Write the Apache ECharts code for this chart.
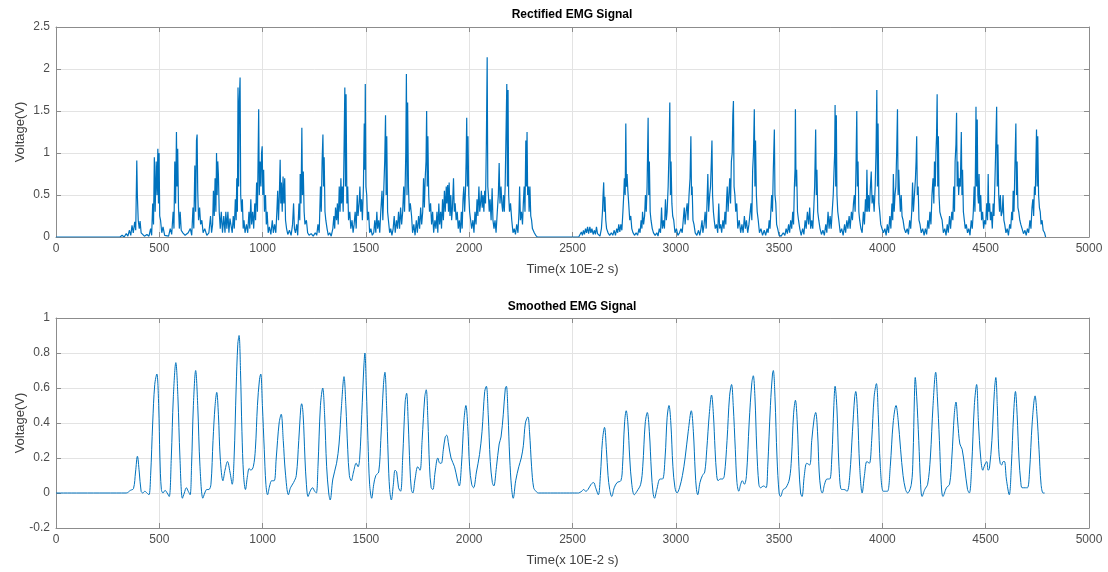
<!DOCTYPE html>
<html>
<head>
<meta charset="utf-8">
<script src="https://cdn.jsdelivr.net/npm/echarts@6/dist/echarts.min.js"></script>
<style>
  html, body { margin: 0; padding: 0; background: #fff; }
  #main { width: 1108px; height: 572px; }
</style>
</head>
<body>
<div id="main"></div>
<script>
// 刻度
const timeTicks = { min: 0, max: 5000, interval: 500 };
const rectTicks = { min: 0, max: 2.5, interval: 0.5 };
const smoothTicks = { min: -0.2, max: 1, interval: 0.2 };

const titles = ['Rectified EMG Signal', 'Smoothed EMG Signal'];
const xName = 'Time(x 10E-2 s)';
const yName = 'Voltage(V)';

// 整流信号 [时间, 电压] (前半段)
const rectFirst = [
  [0,0],[310,0],[320,0.02],[330,0],[340,0.04],[348,0.01],[355,0.08],[362,0.02],[368,0.14],[374,0.05],[381,0.18],[386,0.08],
  [391,0.91],[394,0.48],[398,0.2],[403,0.1],[407,0.19],[412,0.05],[420,0.04],[428,0.01],[440,0.03],[450,0.01],[458,0.1],[463,0.02],
  [468,0.4],[472,0.15],[476,0.95],[480,0.3],[485,0.9],[489,0.5],[493,1.05],[496,0.4],[499,1.0],[502,0.25],[506,0.2],[512,0.05],
  [518,0.12],[526,0.02],[535,0.03],[545,0.01],[553,0.1],[560,0.03],[567,0.3],[571,0.1],[575,0.9],[579,0.4],[583,1.25],[586,0.6],
  [589,1.05],[593,0.35],[597,0.1],[601,0.3],[606,0.08],[614,0.05],[625,0.02],[640,0.05],[650,0.1],[657,0.02],[663,0.35],[667,0.1],
  [672,0.85],[676,0.3],[680,1.15],[683,1.22],[686,0.55],[690,0.2],[695,0.35],[700,0.15],[706,0.2],[712,0.05],[720,0.1],[730,0.02],
  [740,0.05],[748,0.25],[753,0.05],[758,0.15],[762,0.55],[766,0.25],[770,0.7],[774,0.3],[777,1.0],[780,0.5],[783,0.9],[786,0.75],
  [790,0.3],[795,0.1],[800,0.3],[806,0.05],[812,0.25],[818,0.05],[822,0.3],[827,0.1],[832,0.3],[837,0.05],[842,0.22],[848,0.2],
  [853,0.05],[858,0.25],[863,0.1],[868,0.45],[872,0.2],[875,0.7],[878,0.3],[881,1.78],[884,0.6],[887,1.6],[891,1.9],[894,0.5],
  [898,0.3],[902,0.45],[906,0.1],[910,0.2],[915,0.05],[922,0.15],[928,0.05],[934,0.3],[938,0.1],[943,0.45],[947,0.15],[952,0.3],
  [957,0.1],[962,0.4],[966,0.2],[971,0.65],[975,0.3],[978,0.9],[981,1.52],[984,0.5],[988,0.9],[992,0.6],[995,1.0],[998,1.08],
  [1001,0.5],[1005,0.8],[1009,0.3],[1014,0.5],[1018,0.15],[1022,0.3],[1027,0.05],[1033,0.12],[1040,0.03],[1047,0.2],[1052,0.05],
  [1058,0.15],[1064,0.05],[1069,0.3],[1073,0.55],[1077,0.2],[1081,0.5],[1085,0.92],[1088,0.4],[1091,0.65],[1095,0.3],[1099,0.72],
  [1103,0.4],[1107,0.7],[1111,0.2],[1116,0.1],[1122,0.03],[1130,0.08],[1138,0.02],[1145,0.15],[1150,0.4],[1154,0.1],[1159,0.05],
  [1165,0.15],[1170,0.02],[1176,0.4],[1180,0.2],[1182,0.75],[1186,0.4],[1190,1.3],[1193,0.5],[1197,0.78],[1201,0.3],[1205,0.15],
  [1212,0.2],[1218,0.05],[1225,0.02],[1235,0.04],[1245,0.01],[1255,0.05],[1262,0.02],[1268,0.15],[1274,0.05],[1280,0.6],[1284,0.3],
  [1288,0.9],[1292,1.22],[1295,0.6],[1298,0.95],[1302,0.3],[1306,0.2],[1312,0.1],[1318,0.02],[1325,0.05],[1332,0.01],[1340,0.1],
  [1345,0.25],[1349,0.1],[1353,0.35],[1358,0.2],[1362,0.4],[1366,0.15],[1371,0.6],[1375,0.3],[1379,0.7],[1382,0.4],[1386,0.6],
  [1390,0.3],[1394,1.0],[1398,1.78],[1401,0.6],[1404,1.7],[1408,0.4],[1412,0.6],[1416,0.2],[1422,0.3],[1427,0.1],[1433,0.2],
  [1438,0.05],[1443,0.15],[1448,0.3],[1453,0.1],[1458,0.5],[1462,0.25],[1467,0.4],[1471,0.6],[1475,0.3],[1479,0.45],[1483,0.2],
  [1488,0.6],[1492,1.35],[1495,0.8],[1497,1.82],[1500,0.6],[1504,0.5],[1508,0.2],[1513,0.3],[1518,0.05],[1524,0.1],[1531,0.02],
  [1538,0.05],[1543,0.2],[1548,0.05],[1553,0.3],[1557,0.1],[1562,0.2],[1567,0.05],[1572,0.3],[1578,0.55],[1582,0.2],[1587,0.6],
  [1591,0.9],[1595,1.45],[1598,0.5],[1601,1.2],[1605,0.3],[1609,0.2],[1615,0.05],[1620,0.1],[1626,0.02],[1632,0.1],[1637,0.25],
  [1642,0.05],[1648,0.2],[1653,0.1],[1658,0.3],[1663,0.1],[1668,0.35],[1673,0.15],[1678,0.3],[1683,0.6],[1687,0.3],[1690,0.6],
  [1693,1.0],[1696,1.94],[1699,0.5],[1702,1.6],[1706,0.6],[1710,0.3],[1715,0.4],[1721,0.25],[1726,0.05],[1732,0.15],[1738,0.02],
  [1744,0.2],[1749,0.05],[1755,0.25],[1760,0.1],[1765,0.35],[1770,0.15],[1775,0.3],[1779,0.7],[1783,0.35],[1787,0.7],[1791,0.9],
  [1794,1.5],[1797,0.6],[1800,1.2],[1804,0.5],[1808,0.3],[1813,0.4],[1818,0.15],[1823,0.3],[1828,0.05],[1834,0.2],[1839,0.1],
  [1844,0.3],[1848,0.05],[1853,0.4],[1857,0.15],[1862,0.3],[1866,0.1],[1871,0.45],[1875,0.2],[1880,0.55],[1884,0.3],[1889,0.6],
  [1892,0.4],[1896,0.62],[1900,0.3],[1903,0.65],[1907,0.25],[1911,0.5],[1915,0.2],[1919,0.35],[1924,0.7],[1928,0.3],[1932,0.4],
  [1937,0.2],[1942,0.3],[1947,0.1],[1952,0.2],[1957,0.05],[1962,0.3],[1966,0.1],[1970,0.45],[1974,0.6],[1978,0.3],[1982,0.55],
  [1985,0.9],[1988,1.42],[1991,0.6],[1994,1.2],[1998,0.5],[2002,0.3],[2007,0.2],[2012,0.1],[2018,0.2],[2023,0.05],[2028,0.3],
  [2033,0.15],[2038,0.45],[2042,0.25],[2047,0.6],[2051,0.3],[2055,0.4],[2059,0.55],[2063,0.35],[2067,0.5],[2071,0.3],[2075,0.55],
  [2079,0.4],[2083,1.1],[2087,2.14],[2090,0.6],[2093,0.5],[2097,0.3],[2101,0.45],[2106,0.2],[2111,0.58],[2115,0.2],[2120,0.1],
  [2125,0.2],[2130,0.05],[2136,0.3],[2141,0.5],[2145,0.88],[2149,0.4],[2154,0.6],[2158,0.4],[2162,0.3],[2166,0.5],[2170,0.3],
  [2174,0.6],[2178,1.2],[2182,1.82],[2185,0.6],[2188,1.75],[2191,0.5],[2195,0.3],[2200,0.4],[2206,0.2],[2212,0.05],[2218,0.1],
  [2224,0.03],[2230,0.15],[2236,0.05],[2241,0.3],[2244,0.6],[2248,0.2],[2253,0.3],[2258,0.15],[2262,0.4],[2266,0.6],[2270,0.3],
  [2274,1.15],[2277,0.6],[2280,1.25],[2283,0.5],[2287,0.6],[2290,0.3],[2294,0.6],[2298,0.25],[2302,0.2],[2306,0.1],[2310,0.12],
  [2315,0.05],[2322,0.02],[2330,0]
];

// 整流信号 (后半段)
const rectSecond = [
  [2530,0],[2538,0.02],[2543,0.06],[2548,0.02],[2553,0.08],[2558,0.03],[2563,0.1],[2568,0.05],[2573,0.12],[2578,0.04],[2584,0.12],
  [2589,0.05],[2594,0.1],[2600,0.03],[2606,0.08],[2611,0.03],[2616,0.12],[2621,0.04],[2627,0.05],[2633,0.01],[2640,0.1],[2645,0.3],
  [2648,0.5],[2651,0.65],[2654,0.3],[2657,0.48],[2661,0.2],[2665,0.1],[2672,0.05],[2680,0.02],[2688,0.05],[2695,0.02],[2702,0.08],
  [2708,0.02],[2714,0.1],[2719,0.05],[2724,0.15],[2729,0.06],[2734,0.15],[2739,0.08],[2744,0.3],[2748,0.5],[2751,0.7],[2755,0.5],
  [2758,1.35],[2761,0.6],[2764,0.75],[2768,0.55],[2772,0.4],[2777,0.2],[2782,0.25],[2787,0.1],[2793,0.05],[2800,0.02],[2808,0.05],
  [2815,0.02],[2822,0.1],[2827,0.05],[2832,0.2],[2836,0.1],[2839,0.3],[2844,0.15],[2849,0.25],[2853,0.5],[2857,0.3],[2861,0.6],
  [2866,1.42],[2869,0.5],[2872,0.9],[2876,0.3],[2880,0.2],[2886,0.1],[2892,0.05],[2900,0.02],[2908,0.05],[2914,0.01],[2920,0.1],
  [2926,0.05],[2931,0.35],[2935,0.1],[2940,0.2],[2945,0.1],[2950,0.45],[2954,0.2],[2958,0.3],[2963,0.6],[2967,1.0],[2971,1.6],
  [2974,0.5],[2977,0.9],[2981,0.4],[2985,0.25],[2990,0.2],[2996,0.05],[3003,0.1],[3010,0.02],[3018,0.05],[3025,0.1],[3031,0.05],
  [3036,0.2],[3041,0.35],[3045,0.15],[3050,0.3],[3055,0.4],[3059,0.2],[3064,0.5],[3069,0.7],[3073,1.2],[3076,0.5],[3079,0.6],
  [3083,0.2],[3088,0.15],[3094,0.05],[3102,0.02],[3110,0.08],[3116,0.02],[3122,0.1],[3127,0.2],[3131,0.05],[3137,0.15],[3142,0.3],
  [3147,0.1],[3151,0.4],[3155,0.75],[3159,0.3],[3164,0.5],[3168,0.6],[3172,0.9],[3175,1.15],[3178,0.5],[3182,0.3],[3186,0.2],
  [3191,0.1],[3197,0.15],[3203,0.05],[3208,0.4],[3212,0.1],[3217,0.15],[3222,0.05],[3228,0.2],[3233,0.1],[3238,0.3],[3242,0.15],
  [3246,0.45],[3249,0.6],[3253,0.3],[3257,0.5],[3261,0.7],[3265,0.4],[3269,0.9],[3273,1.0],[3276,1.45],[3279,1.62],[3282,0.6],
  [3286,0.5],[3290,0.3],[3295,0.4],[3300,0.1],[3307,0.2],[3314,0.05],[3320,0.15],[3326,0.05],[3332,0.25],[3337,0.1],[3342,0.2],
  [3348,0.05],[3354,0.15],[3360,0.3],[3364,0.4],[3368,0.2],[3372,0.8],[3376,1.0],[3380,1.52],[3383,0.6],[3386,1.15],[3390,0.5],
  [3394,0.3],[3399,0.2],[3405,0.05],[3412,0.1],[3420,0.02],[3428,0.08],[3435,0.02],[3442,0.1],[3447,0.05],[3452,0.2],[3456,0.1],
  [3460,0.3],[3464,0.5],[3468,0.3],[3472,0.8],[3477,1.28],[3480,0.5],[3484,0.4],[3488,0.15],[3493,0.1],[3500,0.02],[3510,0.01],
  [3520,0.05],[3528,0.02],[3534,0.1],[3540,0.04],[3546,0.15],[3551,0.05],[3556,0.2],[3561,0.1],[3566,0.3],[3570,0.15],[3574,0.6],
  [3577,0.8],[3579,1.52],[3582,0.6],[3585,0.8],[3589,0.3],[3594,0.2],[3600,0.1],[3607,0.02],[3614,0.1],[3620,0.03],[3626,0.2],
  [3631,0.1],[3637,0.3],[3643,0.15],[3648,0.35],[3653,0.1],[3658,0.2],[3663,0.1],[3668,0.35],[3672,0.6],[3677,1.28],[3680,0.5],
  [3683,0.8],[3687,0.3],[3692,0.2],[3698,0.1],[3705,0.03],[3712,0.08],[3719,0.02],[3726,0.15],[3731,0.05],[3737,0.3],[3742,0.1],
  [3747,0.25],[3752,0.1],[3757,0.3],[3762,0.5],[3766,0.8],[3769,1.0],[3771,1.57],[3774,0.6],[3777,1.45],[3780,0.5],[3784,0.3],
  [3789,0.2],[3796,0.05],[3803,0.1],[3810,0.02],[3817,0.15],[3822,0.05],[3828,0.2],[3833,0.1],[3839,0.25],[3844,0.1],[3850,0.3],
  [3855,0.2],[3860,0.4],[3864,0.5],[3868,0.3],[3872,0.8],[3876,1.5],[3879,0.6],[3882,0.9],[3886,0.3],[3890,0.2],[3896,0.1],
  [3902,0.05],[3908,0.3],[3913,0.15],[3918,0.45],[3922,0.3],[3925,0.8],[3929,0.3],[3933,0.5],[3937,0.3],[3942,0.6],[3946,0.78],
  [3950,0.4],[3955,0.5],[3960,0.3],[3965,0.6],[3969,1.0],[3973,1.75],[3976,0.6],[3979,1.35],[3983,0.4],[3987,0.3],[3992,0.15],
  [3998,0.1],[4005,0.05],[4012,0.1],[4018,0.02],[4024,0.15],[4030,0.05],[4036,0.25],[4041,0.1],[4046,0.4],[4050,0.2],[4053,0.75],
  [4057,0.3],[4061,0.5],[4065,0.6],[4069,1.0],[4073,1.52],[4076,0.5],[4079,0.8],[4083,0.5],[4087,0.3],[4091,0.5],[4095,0.25],
  [4100,0.2],[4106,0.1],[4113,0.05],[4120,0.1],[4126,0.03],[4132,0.2],[4137,0.1],[4142,0.3],[4146,0.65],[4150,0.3],[4155,0.5],
  [4160,0.7],[4163,0.9],[4166,1.2],[4169,0.5],[4173,0.6],[4177,0.2],[4182,0.15],[4188,0.05],[4195,0.1],[4202,0.02],[4208,0.1],
  [4214,0.03],[4220,0.2],[4225,0.1],[4230,0.3],[4235,0.15],[4240,0.5],[4245,0.7],[4249,0.4],[4252,0.9],[4256,0.6],[4259,1.0],
  [4262,1.2],[4265,1.7],[4268,0.6],[4271,1.2],[4274,0.5],[4278,0.3],[4283,0.25],[4289,0.2],[4295,0.05],[4302,0.1],[4308,0.02],
  [4314,0.15],[4319,0.05],[4325,0.25],[4330,0.1],[4336,0.3],[4341,0.2],[4345,0.6],[4349,0.3],[4352,0.9],[4356,1.1],[4359,1.48],
  [4362,0.6],[4365,0.9],[4369,0.5],[4373,0.7],[4377,0.6],[4380,1.0],[4382,1.25],[4385,0.5],[4388,0.8],[4392,0.3],[4396,0.3],
  [4401,0.1],[4406,0.15],[4412,0.05],[4418,0.1],[4424,0.02],[4430,0.2],[4435,0.1],[4440,0.3],[4444,0.6],[4448,0.3],[4451,1.0],
  [4453,1.55],[4456,0.6],[4459,1.4],[4462,0.5],[4465,0.4],[4468,0.75],[4472,0.3],[4476,0.5],[4480,0.2],[4485,0.3],[4490,0.1],
  [4495,0.2],[4500,0.15],[4505,0.4],[4509,0.2],[4512,0.75],[4515,0.3],[4519,0.4],[4523,0.2],[4527,0.3],[4532,0.1],[4536,0.4],
  [4540,0.25],[4544,0.6],[4548,1.0],[4553,1.55],[4556,0.6],[4559,1.1],[4563,0.5],[4567,0.3],[4571,0.5],[4575,0.25],[4580,0.3],
  [4584,0.5],[4588,0.2],[4592,0.15],[4598,0.05],[4604,0.1],[4610,0.02],[4616,0.15],[4621,0.1],[4626,0.3],[4630,0.2],[4633,0.55],
  [4637,0.3],[4641,0.8],[4646,1.35],[4649,0.5],[4652,0.9],[4656,0.35],[4660,0.3],[4665,0.2],[4670,0.15],[4676,0.1],[4683,0.04],
  [4690,0.08],[4696,0.02],[4702,0.1],[4708,0.05],[4714,0.2],[4719,0.1],[4724,0.35],[4728,0.45],[4732,0.25],[4736,0.6],[4740,0.5],
  [4743,0.9],[4746,1.28],[4749,0.6],[4752,1.2],[4756,0.5],[4760,0.35],[4764,0.3],[4768,0.15],[4773,0.2],[4778,0.08],[4785,0.05],
  [4790,0]
];

// 平滑信号 (前半段)
const smoothFirst = [
  [0,0],[340,0],[360,0.015],[375,0.025],[385,0.12],[394,0.21],[403,0.12],[412,0.01],[420,0],[430,0.01],[440,0],[450,-0.01],
  [458,0.1],[468,0.4],[478,0.62],[488,0.68],[497,0.5],[503,0.2],[510,0.02],[518,0],[528,0.015],[538,0],[548,-0.02],[558,0.2],
  [568,0.55],[580,0.745],[590,0.55],[600,0.2],[612,-0.03],[621,0],[631,0.03],[640,0.01],[649,-0.01],[656,0.15],[665,0.5],
  [676,0.7],[686,0.5],[697,0.15],[711,-0.03],[720,0],[730,0.02],[740,0.02],[750,0.05],[760,0.3],[770,0.5],[778,0.575],[786,0.45],
  [795,0.2],[808,0.07],[818,0.13],[830,0.18],[842,0.12],[853,0.05],[862,0.2],[872,0.6],[880,0.85],[886,0.9],[893,0.7],[900,0.35],
  [908,0.1],[917,0.02],[927,0.1],[935,0.14],[943,0.13],[955,0.15],[965,0.25],[975,0.5],[985,0.65],[991,0.68],[999,0.5],[1008,0.25],
  [1016,0.05],[1024,-0.01],[1034,0.04],[1044,0.07],[1056,0.07],[1066,0.2],[1080,0.4],[1090,0.45],[1100,0.3],[1110,0.12],[1125,-0.01],
  [1135,0.03],[1150,0.06],[1163,0.1],[1175,0.3],[1185,0.49],[1189,0.51],[1196,0.45],[1205,0.2],[1212,0.05],[1220,-0.02],[1230,0.01],
  [1242,0.03],[1252,0.01],[1260,0],[1268,0.15],[1280,0.5],[1291,0.6],[1300,0.45],[1310,0.15],[1320,0],[1327,-0.04],[1340,0.08],
  [1358,0.17],[1370,0.28],[1382,0.5],[1394,0.665],[1403,0.5],[1412,0.25],[1420,0.1],[1429,0.07],[1440,0.12],[1453,0.17],[1462,0.15],
  [1470,0.2],[1480,0.45],[1490,0.72],[1495,0.8],[1502,0.6],[1510,0.3],[1518,0.05],[1528,-0.03],[1538,0.05],[1548,0.1],[1562,0.12],
  [1572,0.3],[1585,0.62],[1592,0.69],[1600,0.5],[1608,0.2],[1615,0.02],[1623,-0.04],[1633,0.05],[1641,0.13],[1649,0.12],[1658,0.03],
  [1668,0.01],[1678,0.2],[1690,0.52],[1697,0.57],[1705,0.4],[1713,0.15],[1720,0.02],[1727,0],[1738,0.08],[1751,0.15],[1762,0.13],
  [1772,0.3],[1785,0.55],[1792,0.59],[1800,0.42],[1808,0.15],[1816,0.03],[1824,0.02],[1835,0.12],[1848,0.2],[1858,0.17],[1865,0.17],
  [1875,0.25],[1884,0.32],[1891,0.33],[1900,0.28],[1912,0.2],[1929,0.15],[1942,0.08],[1952,0.04],[1962,0.15],[1975,0.42],[1984,0.5],
  [1993,0.38],[2002,0.15],[2012,0.05],[2021,0.03],[2035,0.12],[2050,0.22],[2062,0.35],[2075,0.58],[2083,0.61],[2092,0.45],[2102,0.18],
  [2112,0.06],[2119,0.04],[2132,0.15],[2145,0.28],[2154,0.32],[2165,0.45],[2175,0.6],[2180,0.61],[2188,0.45],[2196,0.2],[2205,0.03],
  [2213,-0.03],[2225,0.07],[2240,0.15],[2252,0.2],[2262,0.27],[2272,0.4],[2284,0.435],[2292,0.35],[2302,0.15],[2312,0.03],[2323,0.01],
  [2335,0],[2530,0]
];

// 平滑信号 (后半段)
const smoothSecond = [
  [2530,0],[2545,0.01],[2553,0.02],[2565,0.01],[2575,0.02],[2590,0.05],[2602,0.06],[2612,0.03],[2625,-0.01],[2635,0.1],[2645,0.3],
  [2655,0.375],[2664,0.25],[2672,0.1],[2680,0.02],[2690,-0.02],[2702,0.03],[2716,0.06],[2734,0.07],[2742,0.15],[2752,0.4],[2760,0.47],
  [2768,0.4],[2777,0.2],[2787,0.05],[2799,-0.01],[2812,0.01],[2830,0.05],[2840,0.15],[2852,0.4],[2862,0.46],[2872,0.35],[2882,0.12],
  [2890,0],[2897,-0.03],[2908,0.02],[2924,0.08],[2936,0.08],[2948,0.2],[2958,0.43],[2967,0.5],[2976,0.4],[2986,0.15],[2996,0.03],
  [3006,0],[3018,0.03],[3032,0.1],[3045,0.2],[3060,0.35],[3075,0.47],[3085,0.35],[3094,0.12],[3100,0.02],[3106,-0.01],[3117,0.06],
  [3129,0.1],[3140,0.12],[3150,0.25],[3162,0.45],[3173,0.56],[3182,0.45],[3190,0.25],[3198,0.1],[3205,0.07],[3215,0.08],[3226,0.08],
  [3235,0.1],[3248,0.3],[3260,0.55],[3270,0.62],[3278,0.5],[3288,0.25],[3296,0.06],[3305,0.01],[3314,0.05],[3322,0.07],[3332,0.05],
  [3342,0.1],[3355,0.4],[3368,0.63],[3375,0.67],[3383,0.55],[3392,0.25],[3402,0.05],[3410,0.03],[3425,0.04],[3437,0.03],[3445,0.15],
  [3458,0.5],[3468,0.68],[3472,0.7],[3480,0.55],[3490,0.2],[3500,0],[3507,-0.02],[3520,0.02],[3533,0.03],[3550,0.08],[3560,0.2],
  [3570,0.45],[3579,0.53],[3588,0.4],[3596,0.15],[3604,0],[3611,-0.02],[3622,0.1],[3634,0.17],[3648,0.16],[3658,0.3],[3670,0.43],
  [3677,0.46],[3686,0.35],[3694,0.12],[3702,0.02],[3709,0],[3720,0.05],[3732,0.08],[3745,0.08],[3755,0.2],[3765,0.5],[3771,0.61],
  [3780,0.48],[3790,0.15],[3802,0.02],[3815,0.02],[3829,0.01],[3842,0.1],[3855,0.35],[3866,0.55],[3871,0.58],[3880,0.45],[3890,0.15],
  [3902,0],[3913,0.1],[3925,0.18],[3937,0.17],[3948,0.3],[3960,0.55],[3971,0.625],[3980,0.45],[3990,0.15],[4004,0.01],[4015,0.01],
  [4025,0.01],[4038,0.15],[4052,0.4],[4066,0.5],[4076,0.42],[4088,0.25],[4100,0.1],[4112,0.02],[4122,0],[4140,0.05],[4148,0.2],
  [4155,0.55],[4159,0.66],[4166,0.55],[4176,0.3],[4185,0.05],[4192,-0.02],[4205,0.02],[4219,0.05],[4232,0.2],[4245,0.5],[4258,0.69],
  [4266,0.55],[4276,0.3],[4285,0.05],[4293,-0.02],[4310,0.03],[4325,0.05],[4336,0.2],[4348,0.45],[4356,0.52],[4365,0.4],[4375,0.28],
  [4386,0.25],[4398,0.15],[4412,0.02],[4421,0],[4432,0.15],[4445,0.5],[4456,0.62],[4465,0.4],[4476,0.2],[4486,0.13],[4495,0.16],
  [4505,0.18],[4512,0.13],[4518,0.14],[4530,0.3],[4542,0.58],[4549,0.66],[4556,0.5],[4563,0.25],[4570,0.17],[4577,0.16],[4585,0.18],
  [4591,0.18],[4600,0.08],[4614,-0.01],[4624,0.15],[4635,0.45],[4644,0.58],[4652,0.45],[4661,0.2],[4670,0.06],[4676,0.03],[4690,0.03],
  [4702,0.03],[4712,0.12],[4725,0.4],[4739,0.555],[4748,0.45],[4758,0.25],[4768,0.05],[4778,0],[4785,0]
];

const FONT = 'Liberation Sans';
const boxColor = '#8c8c8c';
const labelColor = '#4d4d4d';
const gridColor = '#e3e3e3';

// 两个子图的位置 (不让 echarts 自动挪动)
const grids = [
    { left: 56, right: 19, top: 27, height: 210, outerBoundsMode: 'none', containLabel: false },
    { left: 56, right: 19, top: 318, height: 210, outerBoundsMode: 'none', containLabel: false }
];

// 刻度文字: 不要千分位
function fmt(v) {
    return String(Math.round(v * 1000) / 1000);
}

function xAxes(gi) {
    return [{
        type: 'value', gridIndex: gi, position: 'bottom',
        min: timeTicks.min, max: timeTicks.max, interval: timeTicks.interval,
        name: xName, nameLocation: 'middle', nameGap: 26, nameMoveOverlap: false,
        nameTextStyle: { fontFamily: FONT, fontSize: 13, color: '#404040' },
        axisLine: { onZero: false, lineStyle: { color: boxColor, width: 1 } },
        axisTick: { inside: true, length: 5, lineStyle: { color: boxColor } },
        axisLabel: { fontFamily: FONT, fontSize: 12, color: labelColor, margin: 6, formatter: fmt },
        splitLine: { show: true, lineStyle: { color: gridColor } }
    }, {
        type: 'value', gridIndex: gi, position: 'top',
        min: timeTicks.min, max: timeTicks.max, interval: timeTicks.interval,
        axisLine: { onZero: false, lineStyle: { color: boxColor, width: 1 } },
        axisTick: { inside: true, length: 5, lineStyle: { color: boxColor } },
        axisLabel: { show: false },
        splitLine: { show: false }
    }];
}

function yAxes(gi, ticks) {
    return [{
        type: 'value', gridIndex: gi, position: 'left',
        min: ticks.min, max: ticks.max, interval: ticks.interval,
        name: yName, nameLocation: 'middle', nameGap: 29, nameMoveOverlap: false,
        nameTextStyle: { fontFamily: FONT, fontSize: 13, color: '#404040' },
        axisLine: { show: true, onZero: false, lineStyle: { color: boxColor, width: 1 } },
        axisTick: { show: true, inside: true, length: 5, lineStyle: { color: boxColor } },
        axisLabel: { fontFamily: FONT, fontSize: 12, color: labelColor, margin: 6, formatter: fmt },
        splitLine: { show: true, lineStyle: { color: gridColor } }
    }, {
        type: 'value', gridIndex: gi, position: 'right',
        min: ticks.min, max: ticks.max, interval: ticks.interval,
        axisLine: { show: true, onZero: false, lineStyle: { color: boxColor, width: 1 } },
        axisTick: { show: true, inside: true, length: 5, lineStyle: { color: boxColor } },
        axisLabel: { show: false },
        splitLine: { show: false }
    }];
}

function lineSeries(data, xi, yi, smooth, width) {
    return {
        type: 'line', data: data,
        xAxisIndex: xi, yAxisIndex: yi,
        showSymbol: false, smooth: smooth,
        lineStyle: { color: '#0072BD', width: width },
        silent: true, z: 3
    };
}

let chart = echarts.init(document.getElementById('main'), null, { renderer: 'canvas' });

let option = {
    animation: false,
    backgroundColor: '#ffffff',
    title: titles.map((t, i) => ({
        text: t,
        left: 567, top: i === 0 ? 4 : 296,
        textAlign: 'center',
        textStyle: { fontFamily: FONT, fontSize: 12, fontWeight: 'bold', color: '#000' }
    })),
    grid: grids,
    xAxis: xAxes(0).concat(xAxes(1)),
    yAxis: yAxes(0, rectTicks).concat(yAxes(1, smoothTicks)),
    series: [
        lineSeries(rectFirst, 0, 0, false, 1.2),
        lineSeries(rectSecond, 0, 0, false, 1.2),
        lineSeries([[2330, 0], [2530, 0]], 0, 0, false, 1.2),
        lineSeries(smoothFirst, 2, 2, 0.35, 1),
        lineSeries(smoothSecond, 2, 2, 0.35, 1)
    ]
};

chart.setOption(option);
</script>
</body>
</html>
